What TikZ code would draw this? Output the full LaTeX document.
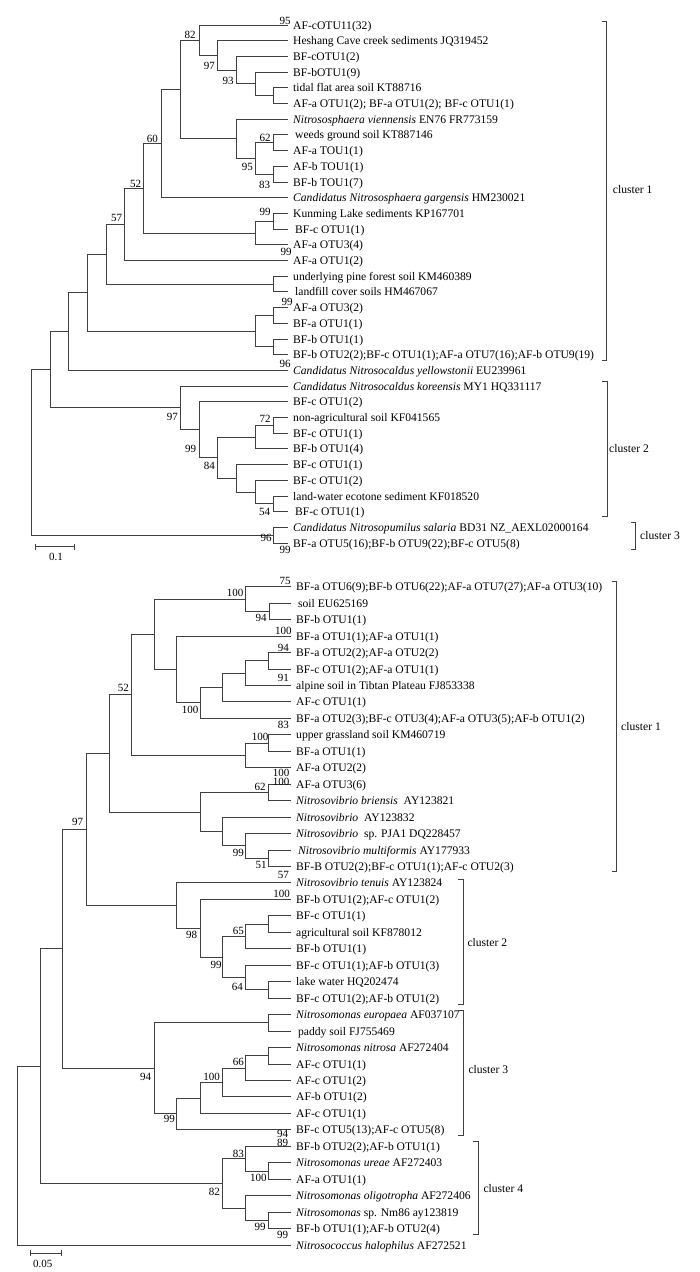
\documentclass[tikz,border=0pt]{standalone}
\usepackage{fontspec}
\setmainfont{Liberation Serif}
\tikzset{
    branch/.style={line width=1pt, black!75, line cap=rect},
    taxon/.style={anchor=base west, inner sep=0pt, xshift=6pt, yshift=-4pt, font=\fontsize{11.6}{13}\selectfont},
    boot/.style={inner sep=0pt, font=\fontsize{11}{13}\selectfont},
    clade/.style={line width=1pt, black!75},
    cladename/.style={anchor=west, inner sep=0pt, font=\fontsize{11.6}{13}\selectfont}
}
\begin{document}
\begin{tikzpicture}[x=1pt,y=-1pt]
        \useasboundingbox (0,0) rectangle (699,1272);

        \path (287,25) coordinate (t0) node[taxon] (lt0) {AF-cOTU11(32)};
        \path (287,40.7) coordinate (t1) node[taxon] (lt1) {Heshang Cave creek sediments JQ319452};
        \path (287,56.4) coordinate (t2) node[taxon] (lt2) {BF-cOTU1(2)};
        \path (287,72.1) coordinate (t3) node[taxon] (lt3) {BF-bOTU1(9)};
        \path (287,87.8) coordinate (t4) node[taxon] (lt4) {tidal flat area soil KT88716};
        \path (287,103.5) coordinate (t5) node[taxon] (lt5) {AF-a OTU1(2); BF-a OTU1(2); BF-c OTU1(1)};
        \path (287,119.2) coordinate (t6) node[taxon] (lt6) {\textit{Nitrososphaera viennensis} EN76 FR773159};
        \path (287,134.9) coordinate (t7) node[taxon] (lt7) {\,weeds ground soil KT887146};
        \path (287,150.6) coordinate (t8) node[taxon] (lt8) {AF-a TOU1(1)};
        \path (287,166.3) coordinate (t9) node[taxon] (lt9) {AF-b TOU1(1)};
        \path (287,182) coordinate (t10) node[taxon] (lt10) {BF-b TOU1(7)};
        \path (287,197.7) coordinate (t11) node[taxon] (lt11) {\textit{Candidatus Nitrososphaera gargensis} HM230021};
        \path (287,213.4) coordinate (t12) node[taxon] (lt12) {Kunming Lake sediments KP167701};
        \path (287,229.1) coordinate (t13) node[taxon] (lt13) {\,BF-c OTU1(1)};
        \path (287,244.8) coordinate (t14) node[taxon] (lt14) {AF-a OTU3(4)};
        \path (287,260.5) coordinate (t15) node[taxon] (lt15) {AF-a OTU1(2)};
        \path (287,276.2) coordinate (t16) node[taxon] (lt16) {underlying pine forest soil KM460389};
        \path (287,291.9) coordinate (t17) node[taxon] (lt17) {\,landfill cover soils HM467067};
        \path (287,307.6) coordinate (t18) node[taxon] (lt18) {AF-a OTU3(2)};
        \path (287,323.3) coordinate (t19) node[taxon] (lt19) {BF-a OTU1(1)};
        \path (287,339) coordinate (t20) node[taxon] (lt20) {BF-b OTU1(1)};
        \path (287,354.7) coordinate (t21) node[taxon] (lt21) {BF-b OTU2(2);BF-c OTU1(1);AF-a OTU7(16);AF-b OTU9(19)};
        \path (287,370.4) coordinate (t22) node[taxon] (lt22) {\textit{Candidatus Nitrosocaldus yellowstonii} EU239961};
        \path (287,386.1) coordinate (t23) node[taxon] (lt23) {\textit{Candidatus Nitrosocaldus koreensis} MY1 HQ331117};
        \path (287,401.8) coordinate (t24) node[taxon] (lt24) {BF-c OTU1(2)};
        \path (287,417.5) coordinate (t25) node[taxon] (lt25) {non-agricultural soil KF041565};
        \path (287,433.2) coordinate (t26) node[taxon] (lt26) {BF-c OTU1(1)};
        \path (287,448.9) coordinate (t27) node[taxon] (lt27) {BF-b OTU1(4)};
        \path (287,464.6) coordinate (t28) node[taxon] (lt28) {BF-c OTU1(1)};
        \path (287,480.3) coordinate (t29) node[taxon] (lt29) {BF-c OTU1(2)};
        \path (287,496) coordinate (t30) node[taxon] (lt30) {land-water ecotone sediment KF018520};
        \path (287,511.7) coordinate (t31) node[taxon] (lt31) {\,BF-c OTU1(1)};
        \path (287,527.4) coordinate (t32) node[taxon] (lt32) {\textit{Candidatus Nitrosopumilus salaria} BD31 NZ\_AEXL02000164};
        \path (287,543.1) coordinate (t33) node[taxon] (lt33) {BF-a OTU5(16);BF-b OTU9(22);BF-c OTU5(8)};

        \coordinate (ta) at (273.3,95.65);
        \coordinate (tb) at (255,83.875);
        \coordinate (t93) at (236,70.14);
        \coordinate (t97) at (217.3,55.42);
        \coordinate (t82) at (199,40.21);
        \coordinate (t62) at (273.3,142.75);
        \coordinate (t83) at (273.3,174.15);
        \coordinate (t95) at (255,158.45);
        \coordinate (tv) at (236,138.83);
        \coordinate (tA) at (180,89.52);
        \coordinate (t60) at (161.7,143.61);
        \coordinate (t99a) at (273.3,221.25);
        \coordinate (t99b) at (255,233.03);
        \coordinate (t52) at (143.3,188.32);
        \coordinate (t57) at (124.3,224.41);
        \coordinate (tU) at (273.3,284.05);
        \coordinate (tB) at (106,254.23);
        \coordinate (tC1) at (273.3,315.45);
        \coordinate (tC2) at (273.3,346.85);
        \coordinate (tC) at (255,331.15);
        \coordinate (tD) at (87.3,292.69);
        \coordinate (tE) at (68.3,331.55);
        \coordinate (t72) at (273.3,425.35);
        \coordinate (tF) at (255,437.13);
        \coordinate (t54) at (273.3,503.85);
        \coordinate (tG) at (255,492.08);
        \coordinate (tH) at (236,478.34);
        \coordinate (t84) at (217.3,457.73);
        \coordinate (t99c) at (199,429.77);
        \coordinate (t97b) at (180,407.93);
        \coordinate (tI) at (50,369.74);
        \coordinate (tS) at (273.3,535.25);
        \coordinate (troot) at (31.7,452.5);

        \draw[branch] (ta) |- (t4) (ta) |- (t5)
            (tb) |- (t3) (tb) |- (ta)
            (t93) |- (t2) (t93) |- (tb)
            (t97) |- (t1) (t97) |- (t93)
            (t82) |- (t0) (t82) |- (t97)
            (t62) |- (t7) (t62) |- (t8)
            (t83) |- (t9) (t83) |- (t10)
            (t95) |- (t62) (t95) |- (t83)
            (tv) |- (t6) (tv) |- (t95)
            (tA) |- (t82) (tA) |- (tv)
            (t60) |- (tA) (t60) |- (t11)
            (t99a) |- (t12) (t99a) |- (t13)
            (t99b) |- (t99a) (t99b) |- (t14)
            (t52) |- (t60) (t52) |- (t99b)
            (t57) |- (t52) (t57) |- (t15)
            (tU) |- (t16) (tU) |- (t17)
            (tB) |- (t57) (tB) |- (tU)
            (tC1) |- (t18) (tC1) |- (t19)
            (tC2) |- (t20) (tC2) |- (t21)
            (tC) |- (tC1) (tC) |- (tC2)
            (tD) |- (tB) (tD) |- (tC)
            (tE) |- (tD) (tE) |- (t22)
            (t72) |- (t25) (t72) |- (t26)
            (tF) |- (t72) (tF) |- (t27)
            (t54) |- (t30) (t54) |- (t31)
            (tG) |- (t29) (tG) |- (t54)
            (tH) |- (t28) (tH) |- (tG)
            (t84) |- (tF) (t84) |- (tH)
            (t99c) |- (t24) (t99c) |- (t84)
            (t97b) |- (t23) (t97b) |- (t99c)
            (tI) |- (tE) (tI) |- (t97b)
            (tS) |- (t32) (tS) |- (t33)
            (troot) |- (tI) (troot) |- (tS);

        \node[boot] (ba1) at (285,21) {95};
        \node[boot] (ba2) at (190,35) {82};
        \node[boot] (ba3) at (209.3,65.7) {97};
        \node[boot] (ba4) at (228,81) {93};
        \node[boot] (ba5) at (265,137.8) {62};
        \node[boot] (ba6) at (247.3,166.7) {95};
        \node[boot] (ba7) at (264.5,184.5) {83};
        \node[boot] (ba8) at (152.3,138.5) {60};
        \node[boot] (ba9) at (135.7,184.3) {52};
        \node[boot] (ba10) at (116.7,218.3) {57};
        \node[boot] (ba11) at (265,211.5) {99};
        \node[boot] (ba12) at (286,251.7) {99};
        \node[boot] (ba13) at (287,301.6) {99};
        \node[boot] (ba14) at (285,363.5) {96};
        \node[boot] (ba15) at (172.3,416.7) {97};
        \node[boot] (ba16) at (190.7,449) {99};
        \node[boot] (ba17) at (209.3,465.7) {84};
        \node[boot] (ba18) at (265,419.3) {72};
        \node[boot] (ba19) at (264.5,511.5) {54};
        \node[boot] (ba20) at (266,538) {96};
        \node[boot] (ba21) at (285,550) {99};

        \draw[clade] (601.7,21.7) -- (606.7,21.7) -- (606.7,360) -- (601.7,360);
        \node[cladename] (ca1) at (612.7,190) {cluster 1};
        \draw[clade] (602,381) -- (607,381) -- (607,516.7) -- (602,516.7);
        \node[cladename] (ca2) at (609,448.3) {cluster 2};
        \draw[clade] (631,522.7) -- (635.7,522.7) -- (635.7,549.3) -- (631,549.3);
        \node[cladename] (ca3) at (640,535.7) {cluster 3};

        \draw[clade] (35.7,543.7) -- (35.7,549.7) (35.7,546.7) -- (74.7,546.7) (74.7,543.7) -- (74.7,549.7);
        \node[boot] (sa) at (56,556.5) {0.1};

        \path (290,586.7) coordinate (u0) node[taxon] (lu0) {BF-a OTU6(9);BF-b OTU6(22);AF-a OTU7(27);AF-a OTU3(10)};
        \path (290,603.16) coordinate (u1) node[taxon] (lu1) {\,soil EU625169};
        \path (290,619.62) coordinate (u2) node[taxon] (lu2) {BF-b OTU1(1)};
        \path (290,636.08) coordinate (u3) node[taxon] (lu3) {BF-a OTU1(1);AF-a OTU1(1)};
        \path (290,652.54) coordinate (u4) node[taxon] (lu4) {BF-a OTU2(2);AF-a OTU2(2)};
        \path (290,669) coordinate (u5) node[taxon] (lu5) {BF-c OTU1(2);AF-a OTU1(1)};
        \path (290,685.46) coordinate (u6) node[taxon] (lu6) {alpine soil in Tibtan Plateau FJ853338};
        \path (290,701.92) coordinate (u7) node[taxon] (lu7) {AF-c OTU1(1)};
        \path (290,718.38) coordinate (u8) node[taxon] (lu8) {BF-a OTU2(3);BF-c OTU3(4);AF-a OTU3(5);AF-b OTU1(2)};
        \path (290,734.84) coordinate (u9) node[taxon] (lu9) {upper grassland soil KM460719};
        \path (290,751.3) coordinate (u10) node[taxon] (lu10) {BF-a OTU1(1)};
        \path (290,767.76) coordinate (u11) node[taxon] (lu11) {AF-a OTU2(2)};
        \path (290,784.22) coordinate (u12) node[taxon] (lu12) {AF-a OTU3(6)};
        \path (290,800.68) coordinate (u13) node[taxon] (lu13) {\textit{Nitrosovibrio briensis}~~AY123821};
        \path (290,817.14) coordinate (u14) node[taxon] (lu14) {\textit{Nitrosovibrio}~~AY123832};
        \path (290,833.6) coordinate (u15) node[taxon] (lu15) {\textit{Nitrosovibrio}~~sp. PJA1 DQ228457};
        \path (290,850.06) coordinate (u16) node[taxon] (lu16) {\,\textit{Nitrosovibrio multiformis} AY177933};
        \path (290,866.52) coordinate (u17) node[taxon] (lu17) {BF-B OTU2(2);BF-c OTU1(1);AF-c OTU2(3)};
        \path (290,882.98) coordinate (u18) node[taxon] (lu18) {\textit{Nitrosovibrio tenuis} AY123824};
        \path (290,899.44) coordinate (u19) node[taxon] (lu19) {BF-b OTU1(2);AF-c OTU1(2)};
        \path (290,915.9) coordinate (u20) node[taxon] (lu20) {BF-c OTU1(1)};
        \path (290,932.36) coordinate (u21) node[taxon] (lu21) {agricultural soil KF878012};
        \path (290,948.82) coordinate (u22) node[taxon] (lu22) {BF-b OTU1(1)};
        \path (290,965.28) coordinate (u23) node[taxon] (lu23) {BF-c OTU1(1);AF-b OTU1(3)};
        \path (290,981.74) coordinate (u24) node[taxon] (lu24) {lake water HQ202474};
        \path (290,998.2) coordinate (u25) node[taxon] (lu25) {BF-c OTU1(2);AF-b OTU1(2)};
        \path (290,1014.66) coordinate (u26) node[taxon] (lu26) {\textit{Nitrosomonas europaea} AF037107};
        \path (290,1031.12) coordinate (u27) node[taxon] (lu27) {\,paddy soil FJ755469};
        \path (290,1047.58) coordinate (u28) node[taxon] (lu28) {\textit{Nitrosomonas nitrosa} AF272404};
        \path (290,1064.04) coordinate (u29) node[taxon] (lu29) {AF-c OTU1(1)};
        \path (290,1080.5) coordinate (u30) node[taxon] (lu30) {AF-c OTU1(2)};
        \path (290,1096.96) coordinate (u31) node[taxon] (lu31) {AF-b OTU1(2)};
        \path (290,1113.42) coordinate (u32) node[taxon] (lu32) {AF-c OTU1(1)};
        \path (290,1129.88) coordinate (u33) node[taxon] (lu33) {BF-c OTU5(13);AF-c OTU5(8)};
        \path (290,1146.34) coordinate (u34) node[taxon] (lu34) {BF-b OTU2(2);AF-b OTU1(1)};
        \path (290,1162.8) coordinate (u35) node[taxon] (lu35) {\textit{Nitrosomonas ureae} AF272403};
        \path (290,1179.26) coordinate (u36) node[taxon] (lu36) {AF-a OTU1(1)};
        \path (290,1195.72) coordinate (u37) node[taxon] (lu37) {\textit{Nitrosomonas oligotropha} AF272406};
        \path (290,1212.18) coordinate (u38) node[taxon] (lu38) {\textit{Nitrosomonas} sp. Nm86 ay123819};
        \path (290,1228.64) coordinate (u39) node[taxon] (lu39) {BF-b OTU1(1);AF-b OTU2(4)};
        \path (290,1245.1) coordinate (u40) node[taxon] (lu40) {\textit{Nitrosococcus halophilus} AF272521};

        \coordinate (m94) at (269.3,611.39);
        \coordinate (m100a) at (245.7,599.05);
        \coordinate (mx1) at (268.3,660.77);
        \coordinate (mx2) at (245.7,673.12);
        \coordinate (mx3) at (222.3,687.52);
        \coordinate (m100b) at (200,702.95);
        \coordinate (mx4) at (176.7,669.52);
        \coordinate (mx5) at (154,634.29);
        \coordinate (m100d) at (268.3,743.07);
        \coordinate (m100c) at (245.7,755.42);
        \coordinate (m52) at (131.7,694.86);
        \coordinate (m62) at (268.3,792.45);
        \coordinate (m51) at (268.3,858.29);
        \coordinate (m99a) at (245.7,845.95);
        \coordinate (mx6) at (222.3,831.55);
        \coordinate (mx7) at (200,812);
        \coordinate (mx8) at (109,753.43);
        \coordinate (mx9) at (268.3,924.13);
        \coordinate (m65) at (245.7,936.48);
        \coordinate (mx10) at (268.3,989.97);
        \coordinate (m64) at (245.7,977.63);
        \coordinate (m99b) at (222.3,957.05);
        \coordinate (m98) at (200,928.25);
        \coordinate (mc2) at (176.7,905.61);
        \coordinate (m97) at (86,829.52);
        \coordinate (mx11) at (268.3,1022.89);
        \coordinate (mx12) at (268.3,1055.81);
        \coordinate (m66) at (245.7,1068.16);
        \coordinate (m100e) at (222.3,1082.56);
        \coordinate (mx13) at (200,1097.99);
        \coordinate (m99c) at (176.7,1113.94);
        \coordinate (m94b) at (154,1068.42);
        \coordinate (mx14) at (62.7,948.97);
        \coordinate (m100f) at (268.3,1171.03);
        \coordinate (m83) at (245.7,1158.69);
        \coordinate (m99d) at (268.3,1220.41);
        \coordinate (mx15) at (245.7,1208.07);
        \coordinate (m82) at (222.3,1183.38);
        \coordinate (mx16) at (40,1066.18);
        \coordinate (mroot) at (17.3,1155.64);

        \draw[branch] (m94) |- (u1) (m94) |- (u2)
            (m100a) |- (u0) (m100a) |- (m94)
            (mx1) |- (u4) (mx1) |- (u5)
            (mx2) |- (mx1) (mx2) |- (u6)
            (mx3) |- (mx2) (mx3) |- (u7)
            (m100b) |- (mx3) (m100b) |- (u8)
            (mx4) |- (u3) (mx4) |- (m100b)
            (mx5) |- (m100a) (mx5) |- (mx4)
            (m100d) |- (u9) (m100d) |- (u10)
            (m100c) |- (m100d) (m100c) |- (u11)
            (m52) |- (mx5) (m52) |- (m100c)
            (m62) |- (u12) (m62) |- (u13)
            (m51) |- (u16) (m51) |- (u17)
            (m99a) |- (u15) (m99a) |- (m51)
            (mx6) |- (u14) (mx6) |- (m99a)
            (mx7) |- (m62) (mx7) |- (mx6)
            (mx8) |- (m52) (mx8) |- (mx7)
            (mx9) |- (u20) (mx9) |- (u21)
            (m65) |- (mx9) (m65) |- (u22)
            (mx10) |- (u24) (mx10) |- (u25)
            (m64) |- (u23) (m64) |- (mx10)
            (m99b) |- (m65) (m99b) |- (m64)
            (m98) |- (u19) (m98) |- (m99b)
            (mc2) |- (u18) (mc2) |- (m98)
            (m97) |- (mx8) (m97) |- (mc2)
            (mx11) |- (u26) (mx11) |- (u27)
            (mx12) |- (u28) (mx12) |- (u29)
            (m66) |- (mx12) (m66) |- (u30)
            (m100e) |- (m66) (m100e) |- (u31)
            (mx13) |- (m100e) (mx13) |- (u32)
            (m99c) |- (mx13) (m99c) |- (u33)
            (m94b) |- (mx11) (m94b) |- (m99c)
            (mx14) |- (m97) (mx14) |- (m94b)
            (m100f) |- (u35) (m100f) |- (u36)
            (m83) |- (u34) (m83) |- (m100f)
            (m99d) |- (u38) (m99d) |- (u39)
            (mx15) |- (u37) (mx15) |- (m99d)
            (m82) |- (m83) (m82) |- (mx15)
            (mx16) |- (mx14) (mx16) |- (m82)
            (mroot) |- (mx16) (mroot) |- (u40);

        \node[boot] (bb1) at (285,581) {75};
        \node[boot] (bb2) at (235,593.3) {100};
        \node[boot] (bb3) at (261,617.8) {94};
        \node[boot] (bb4) at (283.3,630.7) {100};
        \node[boot] (bb5) at (283.3,648.3) {94};
        \node[boot] (bb6) at (283.3,677.7) {91};
        \node[boot] (bb7) at (190,710) {100};
        \node[boot] (bb8) at (283.3,725) {83};
        \node[boot] (bb9) at (123.3,688.3) {52};
        \node[boot] (bb10) at (260,736.7) {100};
        \node[boot] (bb11) at (281,772.5) {100};
        \node[boot] (bb12) at (281,781.7) {100};
        \node[boot] (bb13) at (260,786.7) {62};
        \node[boot] (bb14) at (238.3,853.3) {99};
        \node[boot] (bb15) at (261,865) {51};
        \node[boot] (bb16) at (283.3,875) {57};
        \node[boot] (bb17) at (77.7,822) {97};
        \node[boot] (bb18) at (281.7,894) {100};
        \node[boot] (bb19) at (191.7,935) {98};
        \node[boot] (bb20) at (238.3,931) {65};
        \node[boot] (bb21) at (216,965) {99};
        \node[boot] (bb22) at (237.3,987.3) {64};
        \node[boot] (bb23) at (238.3,1062.3) {66};
        \node[boot] (bb24) at (211.7,1076.7) {100};
        \node[boot] (bb25) at (145.7,1076.7) {94};
        \node[boot] (bb26) at (169.3,1119.3) {99};
        \node[boot] (bb27) at (282.5,1133.5) {94};
        \node[boot] (bb28) at (282.5,1143) {89};
        \node[boot] (bb29) at (238.3,1154) {83};
        \node[boot] (bb30) at (258.3,1177.7) {100};
        \node[boot] (bb31) at (214.3,1191.7) {82};
        \node[boot] (bb32) at (260,1226.7) {99};
        \node[boot] (bb33) at (282.7,1235) {99};

        \draw[clade] (611.7,581.7) -- (616.7,581.7) -- (616.7,871.7) -- (611.7,871.7);
        \node[cladename] (cb1) at (621,726.7) {cluster 1};
        \draw[clade] (458.3,879) -- (463.3,879) -- (463.3,1004) -- (458.3,1004);
        \node[cladename] (cb2) at (467.3,942.3) {cluster 2};
        \draw[clade] (458.3,1010.7) -- (463.3,1010.7) -- (463.3,1135.7) -- (458.3,1135.7);
        \node[cladename] (cb3) at (468.3,1070) {cluster 3};
        \draw[clade] (472.7,1141.7) -- (478.3,1141.7) -- (478.3,1234.3) -- (472.7,1234.3);
        \node[cladename] (cb4) at (483.3,1189) {cluster 4};

        \draw[clade] (30,1250.3) -- (30,1256.3) (30,1253.3) -- (61.7,1253.3) (61.7,1250.3) -- (61.7,1256.3);
        \node[boot] (sb) at (42.7,1264) {0.05};
\end{tikzpicture}
\end{document}
